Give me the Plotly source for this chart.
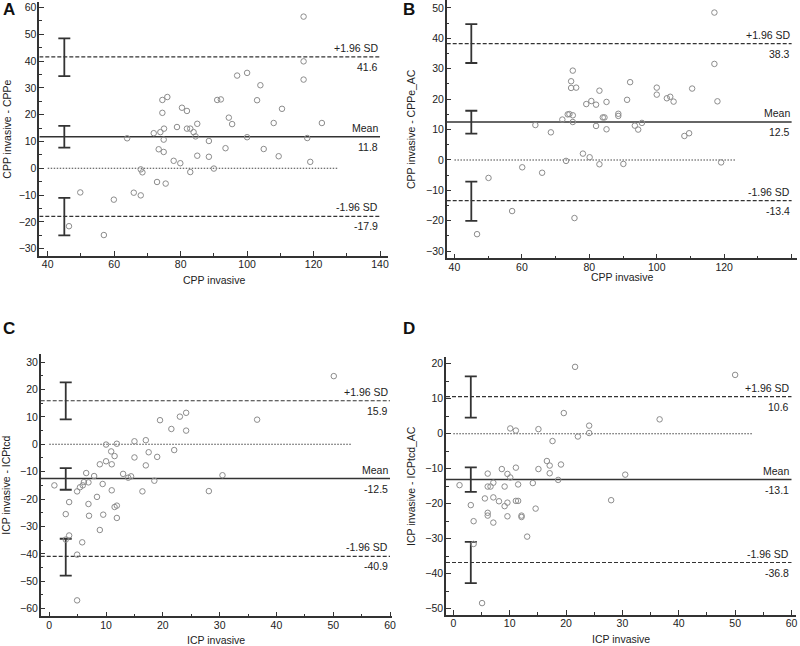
import plotly.graph_objects as go

# ---------------- data ----------------
# Panel A: CPP invasive vs (CPP invasive - CPPe)
a_x = [46.4, 49.8, 56.9, 59.9, 63.9, 65.9, 68.0, 68.5, 68.0, 71.9, 72.9, 73.4, 73.9, 74.5, 76.0,
       74.5, 75.0, 74.9, 74.9, 75.5, 78.9, 77.9, 79.9, 80.4, 81.9, 81.9, 82.9, 83.9, 84.5, 82.9,
       85.0, 85.0, 117.0, 117.0, 117.0, 97.0, 100.0, 104.0, 91.0, 92.1, 103.0, 110.5, 94.5, 95.5,
       108.0, 122.5, 100.0, 118.1, 88.5, 93.5, 105.0, 88.5, 109.5, 119.0, 90.0]
a_y = [-21.6, -9.0, -24.9, -11.7, 11.2, -9.1, -0.4, -1.5, -10.1, 13.1, -5.1, 7.1, 13.5, 25.5, 26.6,
       20.7, 14.8, 10.7, 6.1, -5.7, 15.4, 2.8, 1.9, 22.6, 21.4, 14.8, 14.8, 13.5, 11.9, -1.4,
       16.6, 4.7, 56.6, 39.9, 33.1, 34.6, 35.6, 31.0, 25.5, 25.7, 25.4, 22.2, 18.9, 16.5,
       16.9, 16.9, 11.6, 11.3, 10.2, 7.5, 7.2, 4.3, 4.5, 2.4, -0.1]
a_limits = [41.6, 11.8, -17.9]            # +1.96 SD, mean, -1.96 SD
a_ci_lo = [34.4, 7.7, -25.0]
a_ci_hi = [48.5, 15.8, -11.0]

# Panel B: CPP invasive vs (CPP invasive - CPPe_AC)
b_x = [46.7, 50.1, 57.1, 60.1, 64.0, 66.0, 68.6, 72.0, 73.1, 73.6, 74.1, 74.6, 74.6, 75.1, 75.1,
       75.1, 76.1, 75.6, 78.1, 79.1, 80.1, 80.6, 82.0, 82.0, 83.0, 83.0, 92.1, 85.1, 91.2, 100.0,
       100.0, 103.0, 104.0, 105.0, 84.0, 84.5, 85.1, 88.6, 88.6, 93.5, 94.5, 95.6, 90.1, 117.1,
       117.1, 110.5, 118.0, 108.2, 109.6, 119.1]
b_y = [-24.4, -5.9, -16.8, -2.4, 11.5, -4.2, 9.1, 13.3, -0.3, 15.0, 15.1, 25.9, 23.7, 29.4, 14.7,
       12.5, 23.8, -19.1, 2.1, 18.4, 0.9, 19.4, 18.2, 11.2, 22.8, -1.4, 25.6, 19.1, 19.8, 23.8,
       21.5, 20.3, 20.8, 19.2, 14.0, 14.0, 10.1, 15.2, 14.5, 11.3, 10.0, 12.2, -1.3, 48.5,
       31.6, 23.5, 19.3, 7.9, 8.8, -0.8]
b_limits = [38.3, 12.5, -13.4]
b_ci_lo = [31.9, 8.7, -20.0]
b_ci_hi = [44.7, 16.2, -7.1]

# Panel C: ICP invasive vs (ICP invasive - ICPtcd)
c_x = [0.9, 2.9, 3.5, 2.9, 3.5, 4.9, 4.9, 4.9, 5.4, 5.9, 5.8, 6.1, 6.5, 6.9, 6.9, 7.0, 7.9, 8.4,
       8.9, 8.9, 9.4, 9.5, 10.0, 10.0, 10.9, 11.0, 11.0, 11.5, 11.5, 11.9, 11.9, 11.9, 13.0, 13.9,
       14.4, 15.0, 15.0, 16.4, 17.0, 17.0, 17.5, 18.5, 19.0, 19.5, 21.5, 22.0, 23.0, 24.1, 24.1,
       50.1, 36.6, 30.5, 28.1]
c_y = [-15.0, -34.8, -33.3, -25.5, -21.1, -40.3, -57.0, -17.2, -15.7, -15.0, -35.8, -13.8, -10.5,
       -13.9, -21.8, -26.1, -11.6, -19.2, -7.3, -31.3, -14.5, -25.7, -0.1, -6.2, -2.6, -7.3, -16.8,
       -4.3, -22.9, 0.2, -22.4, -26.9, -10.8, -12.2, -11.7, 1.1, -4.8, -17.2, 1.5, -7.7, -2.9,
       -13.3, -4.6, 8.8, 5.6, -2.1, 10.1, 11.5, 5.0, 24.9, 9.0, -11.3, -17.1]
c_limits = [15.9, -12.5, -40.9]
c_ci_lo = [9.1, -16.6, -48.0]
c_ci_hi = [22.6, -8.7, -34.5]

# Panel D: ICP invasive vs (ICP invasive - ICPtcd_AC)
d_x = [1.1, 3.1, 3.6, 3.6, 5.1, 5.6, 6.1, 6.1, 6.6, 6.1, 6.1, 7.1, 7.1, 7.1, 8.1, 8.6, 9.1, 9.1,
       9.6, 9.6, 9.6, 10.1, 10.1, 11.1, 11.1, 11.1, 11.5, 11.5, 12.1, 12.1, 13.1, 14.1, 14.6,
       15.1, 15.1, 17.6, 16.6, 17.1, 17.1, 19.1, 18.6, 19.6, 21.6, 22.1, 24.1, 24.1,
       50.0, 36.6, 30.5, 28.0]
d_y = [-14.7, -20.4, -25.0, -31.5, -48.4, -18.5, -11.4, -15.1, -15.1, -22.6, -23.4, -14.0, -18.2,
       -25.4, -19.3, -10.1, -15.1, -20.7, -11.5, -19.7, -23.6, 1.5, -12.5, 0.9, -9.7, -19.2,
       -19.2, -14.5, -23.4, -23.8, -29.4, -14.1, -21.4, 1.3, -10.1, -2.1, -7.8, -9.1, -11.3,
       -8.8, -13.2, 5.9, 19.1, -0.8, 2.3, 0.2, 16.8, 4.1, -11.7, -19.0]
d_limits = [10.6, -13.1, -36.8]
d_ci_lo = [4.6, -16.6, -42.7]
d_ci_hi = [16.4, -9.6, -30.9]

limit_names = ["+1.96 SD", "Mean", "-1.96 SD"]

# ---------------- layout config ----------------
LINE = "#333333"
TXT = "#222222"
MARK = "#8c8c8c"
FONT = "Liberation Sans, Arial, sans-serif"

panels = [
    dict(key="A", x=a_x, y=a_y, lim=a_limits, lo=a_ci_lo, hi=a_ci_hi,
         xdom=[39.3, 388], ydom=[2, 256], xr=[37.47, 142.4], yr=[-32.72, 62.05],
         xt=dict(tick0=40, dtick=20, minor=10), yt=dict(tick0=-30, dtick=10, minor=5),
         line_x=[37.47, 140], zero_x=[40, 127.5], ci_x=45,
         xtitle="CPP invasive", ytitle="CPP invasive - CPPe",
         xtitle_pos=(213.7, 280), ytitle_pos=(6.7, 129), letter_pos=(9, 10)),
    dict(key="B", x=b_x, y=b_y, lim=b_limits, lo=b_ci_lo, hi=b_ci_hi,
         xdom=[446.7, 797], ydom=[0, 258.3], xr=[37.7, 141.6], yr=[-32.34, 52.63],
         xt=dict(tick0=40, dtick=20, minor=10), yt=dict(tick0=-30, dtick=10, minor=5),
         line_x=[37.7, 140], zero_x=[40, 123.5], ci_x=45,
         xtitle="CPP invasive", ytitle="CPP invasive - CPPe_AC",
         xtitle_pos=(621.9, 276.5), ytitle_pos=(411, 129), letter_pos=(409, 10)),
    dict(key="C", x=c_x, y=c_y, lim=c_limits, lo=c_ci_lo, hi=c_ci_hi,
         xdom=[40.7, 392], ydom=[354.3, 616.3], xr=[-1.51, 60.35], yr=[-62.82, 32.87],
         xt=dict(tick0=0, dtick=10, minor=5), yt=dict(tick0=-60, dtick=10, minor=5),
         line_x=[-1.51, 60], zero_x=[0, 53.3], ci_x=2.9,
         xtitle="ICP invasive", ytitle="ICP invasive - ICPtcd",
         xtitle_pos=(216, 640), ytitle_pos=(5.7, 485), letter_pos=(9, 328)),
    dict(key="D", x=d_x, y=d_y, lim=d_limits, lo=d_ci_lo, hi=d_ci_hi,
         xdom=[446, 796], ydom=[356.7, 615], xr=[-1.30, 60.8], yr=[-51.8, 22.0],
         xt=dict(tick0=0, dtick=10, minor=5), yt=dict(tick0=-50, dtick=10, minor=5),
         line_x=[-1.30, 60], zero_x=[0, 53.1], ci_x=3.1,
         xtitle="ICP invasive", ytitle="ICP invasive - ICPtcd_AC",
         xtitle_pos=(621, 639), ytitle_pos=(411, 486), letter_pos=(409, 328)),
]

W, H = 800, 646
fig = go.Figure()
annotations = []
layout_axes = {}

for i, p in enumerate(panels):
    n = "" if i == 0 else str(i + 1)
    xa, ya = "x" + n, "y" + n
    # limit lines
    styles = [dict(dash="4px,2px", width=1.2), dict(dash="solid", width=1.5), dict(dash="4px,2px", width=1.2)]
    for v, st in zip(p["lim"], styles):
        fig.add_trace(go.Scatter(x=p["line_x"], y=[v, v], mode="lines", xaxis=xa, yaxis=ya,
                                 line=dict(color=LINE, **st), hoverinfo="skip", showlegend=False))
    # zero line
    fig.add_trace(go.Scatter(x=p["zero_x"], y=[0, 0], mode="lines", xaxis=xa, yaxis=ya,
                             line=dict(color="#444444", dash="1.5px,1.5px", width=1.1),
                             hoverinfo="skip", showlegend=False))
    # CI error bars
    fig.add_trace(go.Scatter(x=[p["ci_x"]] * 3, y=p["lim"], mode="markers", xaxis=xa, yaxis=ya,
                             marker=dict(size=1, opacity=0),
                             error_y=dict(type="data", symmetric=False,
                                          array=[h - v for h, v in zip(p["hi"], p["lim"])],
                                          arrayminus=[v - l for l, v in zip(p["lo"], p["lim"])],
                                          color=LINE, thickness=1.8, width=6),
                             hoverinfo="skip", showlegend=False))
    # data points
    fig.add_trace(go.Scatter(x=p["x"], y=p["y"], mode="markers", xaxis=xa, yaxis=ya,
                             marker=dict(symbol="circle-open", size=5.5, color=MARK,
                                         line=dict(width=1, color=MARK)),
                             showlegend=False))
    # axes
    common = dict(showline=True, linecolor=LINE, linewidth=1.5, ticks="inside", ticklen=5,
                  tickwidth=1.2, tickcolor=LINE, showgrid=False, zeroline=False,
                  tickfont=dict(family=FONT, size=10.5, color=TXT), automargin=False,
                  fixedrange=True)
    layout_axes["xaxis" + n] = dict(
        common, domain=[p["xdom"][0] / W, p["xdom"][1] / W], range=p["xr"], anchor=ya,
        tickmode="linear", tick0=p["xt"]["tick0"], dtick=p["xt"]["dtick"], ticklabelstandoff=-2,
        minor=dict(ticks="inside", ticklen=3, tickcolor=LINE, dtick=p["xt"]["minor"],
                   tick0=p["xt"]["tick0"], showgrid=False))
    layout_axes["yaxis" + n] = dict(
        common, domain=[1 - p["ydom"][1] / H, 1 - p["ydom"][0] / H], range=p["yr"], anchor=xa,
        tickmode="linear", tick0=p["yt"]["tick0"], dtick=p["yt"]["dtick"], ticklabelstandoff=-1,
        minor=dict(ticks="inside", ticklen=3, tickcolor=LINE, dtick=p["yt"]["minor"],
                   tick0=p["yt"]["tick0"], showgrid=False))
    # limit labels
    for v, name in zip(p["lim"], limit_names):
        annotations.append(dict(x=p["line_x"][1], y=v, xref=xa, yref=ya, text=name,
                                xanchor="right", yanchor="bottom", yshift=1, showarrow=False,
                                font=dict(family=FONT, size=10.5, color=TXT)))
        annotations.append(dict(x=p["line_x"][1], y=v, xref=xa, yref=ya, text=f"{v:.1f}",
                                xanchor="right", yanchor="top", yshift=-2, showarrow=False,
                                font=dict(family=FONT, size=10.5, color=TXT)))
    # titles
    annotations.append(dict(x=p["xtitle_pos"][0] / W, y=1 - p["xtitle_pos"][1] / H, xref="paper",
                            yref="paper", text=p["xtitle"], showarrow=False, xanchor="center",
                            yanchor="middle", font=dict(family=FONT, size=10.5, color=TXT)))
    annotations.append(dict(x=p["ytitle_pos"][0] / W, y=1 - p["ytitle_pos"][1] / H, xref="paper",
                            yref="paper", text=p["ytitle"], showarrow=False, textangle=-90,
                            xanchor="center", yanchor="middle",
                            font=dict(family=FONT, size=10.5, color=TXT)))
    annotations.append(dict(x=p["letter_pos"][0] / W, y=1 - p["letter_pos"][1] / H, xref="paper",
                            yref="paper", text="<b>" + p["key"] + "</b>", showarrow=False,
                            xanchor="center", yanchor="middle",
                            font=dict(family=FONT, size=17, color="#111111")))

fig.update_layout(width=W, height=H, margin=dict(l=0, r=0, t=0, b=0),
                  paper_bgcolor="white", plot_bgcolor="white", showlegend=False,
                  annotations=annotations, **layout_axes)

fig.write_html("out.html", config={"displayModeBar": False},
               post_script="document.body.style.margin='0px';document.body.style.overflow='hidden';")
